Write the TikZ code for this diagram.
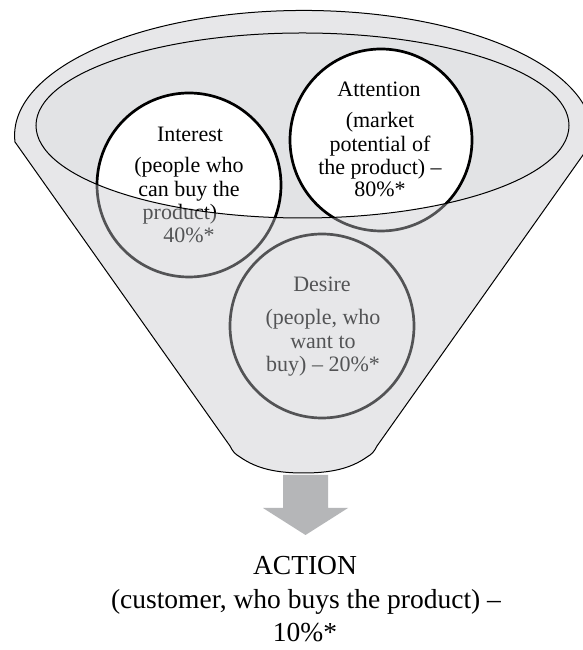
\documentclass[tikz,border=0pt]{standalone}
\usepackage{fontspec}
\setmainfont{Liberation Serif}
\definecolor{ringgray}{RGB}{198,200,204}
\definecolor{innergray}{RGB}{226,227,229}
\definecolor{arrowgray}{RGB}{181,182,184}
\newcommand\funnelpath{(15,508) arc[start angle=183, end angle=-3, x radius=289, y radius=125]
  -- (377,204) .. controls (374,198) and (372,196) .. (367,193)
  .. controls (350,181) and (330,177) .. (303.5,177)
  .. controls (277,177) and (257,181) .. (240,193)
  .. controls (235,196) and (233,198) .. (230,204) -- cycle}
\newcommand\innerellipse{(302.5,524.5) ellipse [x radius=266.5, y radius=92.5]}
\begin{document}
\begin{tikzpicture}[x=1pt,y=1pt,
  circ/.style={circle, draw=black, line width=2.7pt, fill=white, minimum size=184pt, inner sep=0pt},
  lbl/.style={anchor=base, font=\fontsize{22}{23.3}\selectfont, inner sep=0pt},
  act/.style={anchor=base, font=\fontsize{27.5}{33}\selectfont, inner sep=0pt},
  outl/.style={draw=black, line width=1pt}]
\useasboundingbox (0,0) rectangle (582,650);
\fill[white] (0,0) rectangle (582,650);
% inner opening
\fill[innergray] \innerellipse;
% circles
\node[circ] (interest) at (189,465) {};
\node[circ, minimum size=182pt] (attention) at (381,510) {};
\node[circ] (desire) at (322,324) {};
% circle texts
\node[lbl] (i1) at (190,508) {Interest};
\node[lbl] (i2) at (189,477) {(people who};
\node[lbl] (i3) at (189,453) {can buy the};
\node[lbl] (i4) at (180,430) {product)};
\node[lbl] (i5) at (189,407) {40\%*};
\node[lbl] (a1) at (379,553) {Attention};
\node[lbl] (a2) at (380,522) {(market};
\node[lbl] (a3) at (380,498) {potential of};
\node[lbl] (a4) at (380,475) {the product) –};
\node[lbl] (a5) at (380,453) {80\%*};
\node[lbl] (d1) at (322,358) {Desire};
\node[lbl] (d2) at (323,325) {(people, who};
\node[lbl] (d3) at (323,301) {want to};
\node[lbl] (d4) at (323,278) {buy) – 20\%*};
% funnel body in front
\fill[ringgray, fill opacity=0.42, even odd rule] \funnelpath \innerellipse;
\draw[outl] \funnelpath;
\draw[outl] \innerellipse;
% arrow
\fill[arrowgray] (283,175) -- (328,175) -- (328,142) -- (348,142) -- (305.5,115) -- (263,142) -- (283,142) -- cycle;
% action text
\node[act] (t1) at (305,75) {ACTION};
\node[act] (t2) at (306,41) {(customer, who buys the product) –};
\node[act] (t3) at (305,9) {10\%*};
\end{tikzpicture}
\end{document}
